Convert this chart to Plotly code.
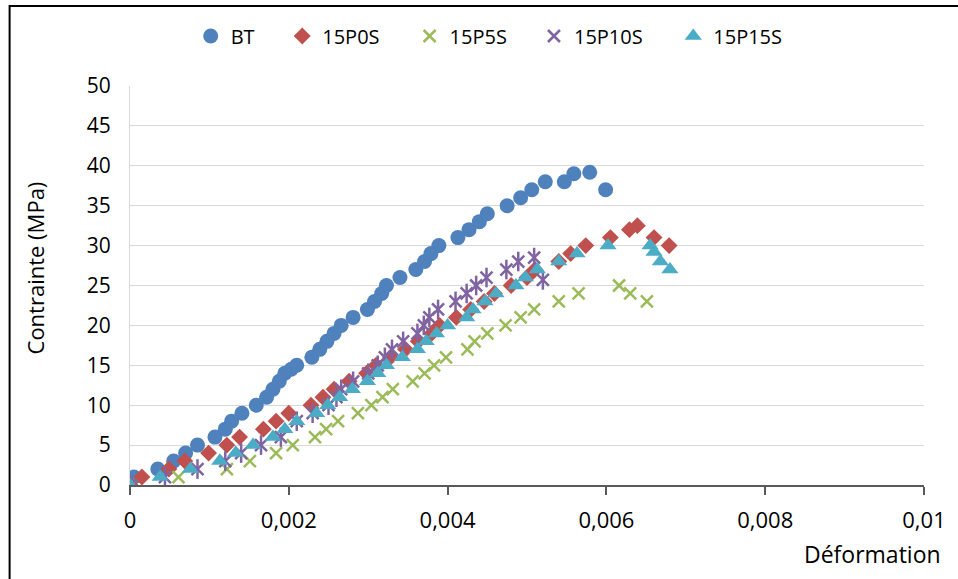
import plotly.graph_objects as go

# ---- data ----
bt_x = [0, 0.00005, 0.00035, 0.00055, 0.0007, 0.00085, 0.00107, 0.0012, 0.00128, 0.00141, 0.00159,
        0.00172, 0.0018, 0.00188, 0.00195, 0.00203, 0.0021, 0.00229, 0.00239, 0.00248, 0.00257,
        0.00266, 0.00281, 0.00299, 0.00308, 0.00317, 0.00323, 0.0034, 0.0036, 0.00371, 0.00379,
        0.00389, 0.00413, 0.00427, 0.0044, 0.0045, 0.00475, 0.00492, 0.00506, 0.00523, 0.00547,
        0.00559, 0.00579, 0.00599]
bt_y = [0, 1, 2, 3, 4, 5, 6, 7, 8, 9, 10,
        11, 12, 13, 14, 14.5, 15, 16, 17, 18, 19,
        20, 21, 22, 23, 24, 25, 26, 27, 28, 29,
        30, 31, 32, 33, 34, 35, 36, 37, 38, 38,
        39, 39.2, 37]

p0_x = [0, 0.00015, 0.00049, 0.00069, 0.00099, 0.00122, 0.00138, 0.00168, 0.00184, 0.002, 0.00228,
        0.00243, 0.00257, 0.00276, 0.00298, 0.0031, 0.00328, 0.00347, 0.00363, 0.0038, 0.0039,
        0.00411, 0.00429, 0.00446, 0.00459, 0.0048, 0.005, 0.0051, 0.0054, 0.00555, 0.00574,
        0.00605, 0.00629, 0.00639, 0.0066, 0.00679]
p0_y = [0, 1, 2, 3, 4, 5, 6, 7, 8, 9, 10,
        11, 12, 13, 14, 15, 16, 17, 18, 19, 20,
        21, 22, 23, 24, 25, 26, 27, 28, 29, 30,
        31, 32, 32.5, 31, 30]

p5_x = [0, 0.00061, 0.00122, 0.00151, 0.00184, 0.00205, 0.00233, 0.00247, 0.00262, 0.00287, 0.00304,
        0.00318, 0.00331, 0.00356, 0.00371, 0.00383, 0.00398, 0.00425, 0.00434, 0.0045, 0.00473,
        0.00492, 0.00509, 0.0054, 0.00565, 0.00616, 0.0063, 0.00651]
p5_y = [0, 1, 2, 3, 4, 5, 6, 7, 8, 9, 10,
        11, 12, 13, 14, 15, 16, 17, 18, 19, 20,
        21, 22, 23, 24, 25, 24, 23]

p10_x = [0, 0.00044, 0.00085, 0.0012, 0.0014, 0.00165, 0.0019, 0.0021, 0.0023, 0.0025, 0.0026,
         0.00266, 0.00281, 0.003, 0.00312, 0.00321, 0.0033, 0.00344, 0.00362, 0.0037, 0.00377,
         0.00388, 0.0041, 0.00424, 0.00436, 0.00449, 0.00474, 0.00489, 0.00509, 0.0052]
p10_y = [0, 1, 2, 3, 4, 5, 6, 8, 9, 10, 11,
         12, 13, 14, 15, 16, 17, 18, 19, 20, 21,
         22, 23, 24, 25, 26, 27, 28, 28.5, 25.7]

p15_x = [0, 0.00038, 0.00076, 0.00113, 0.00133, 0.00155, 0.0018, 0.00195, 0.0021, 0.00235, 0.00249,
         0.00264, 0.0028, 0.00299, 0.00312, 0.00323, 0.00343, 0.00362, 0.00373, 0.00386, 0.004,
         0.00424, 0.00432, 0.00447, 0.00461, 0.00486, 0.00498, 0.00513, 0.0054, 0.00563, 0.00602,
         0.00655, 0.0066, 0.00668, 0.0068]
p15_y = [0, 1, 2, 3, 4, 5, 6, 7, 8, 9, 10,
         11, 12, 13, 14, 15, 16, 17, 18, 19, 20,
         21, 22, 23, 24, 25, 26, 27, 28, 29, 30,
         30, 29.2, 28, 27]

x_ticks = [0, 0.002, 0.004, 0.006, 0.008, 0.01]
x_tick_text = ["0", "0,002", "0,004", "0,006", "0,008", "0,01"]
y_ticks = [0, 5, 10, 15, 20, 25, 30, 35, 40, 45, 50]

names = ["BT", "15P0S", "15P5S", "15P10S", "15P15S"]
colors = ["#4F81BD", "#C0504D", "#9BBB59", "#8064A2", "#4BACC6"]

FONT = "Open Sans"
W, H = 958, 579
PL, PR, PT, PB = 130, 30, 86, 94
PW, PH = W - PL - PR, H - PT - PB


def px_x(p):
    return (p - PL) / PW


def px_y(p):
    return (H - PB - p) / PH


fig = go.Figure()
fig.add_trace(go.Scatter(x=bt_x, y=bt_y, mode="markers", name=names[0], legend="legend",
                         marker=dict(symbol="circle", size=15, color=colors[0])))
fig.add_trace(go.Scatter(x=p0_x, y=p0_y, mode="markers", name=names[1], legend="legend2",
                         marker=dict(symbol="diamond", size=13, color=colors[1])))
fig.add_trace(go.Scatter(x=p5_x, y=p5_y, mode="markers", name=names[2], legend="legend3",
                         marker=dict(symbol="x-thin-open", size=12, color=colors[2],
                                     line=dict(color=colors[2], width=2.5))))
fig.add_trace(go.Scatter(x=p10_x, y=p10_y, mode="markers", name=names[3], legend="legend4",
                         legendgroup="p10",
                         marker=dict(symbol="x-thin-open", size=12, color=colors[3],
                                     line=dict(color=colors[3], width=2.5))))
fig.add_trace(go.Scatter(x=p10_x, y=p10_y, mode="markers", name=names[3], legend="legend4",
                         legendgroup="p10", showlegend=False,
                         marker=dict(symbol="line-ns-open", size=14, color=colors[3],
                                     line=dict(color=colors[3], width=2.5))))
fig.add_trace(go.Scatter(x=p15_x, y=p15_y, mode="markers", name=names[4], legend="legend5",
                         marker=dict(symbol="triangle-up", size=15, color=colors[4])))

legend_marker_px = [213, 305, 433, 558, 698]
legend_common = dict(orientation="h", yanchor="middle", xanchor="left",
                     font=dict(family=FONT, size=20), bgcolor="rgba(0,0,0,0)")
legends = {}
for i, mx in enumerate(legend_marker_px):
    key = "legend" if i == 0 else f"legend{i + 1}"
    legends[key] = dict(legend_common, x=px_x(mx - 22), y=px_y(36))

fig.update_layout(
    width=W, height=H,
    margin=dict(l=PL, r=PR, t=PT, b=PB),
    paper_bgcolor="white", plot_bgcolor="white",
    font=dict(family=FONT, size=22, color="#000000"),
    showlegend=True,
    xaxis=dict(range=[0, 0.01], tickvals=x_ticks, ticktext=x_tick_text,
               showgrid=False, zeroline=False, showline=True, linecolor="#595959", linewidth=2,
               ticks="outside", ticklen=8, tickcolor="#595959", tickwidth=1.5,
               ticklabelstandoff=7,
               tickfont=dict(family=FONT, size=22), fixedrange=True),
    yaxis=dict(range=[0, 50], tickvals=y_ticks, showgrid=True, gridcolor="#D9D9D9", gridwidth=1,
               zeroline=False, showline=True, linecolor="#D9D9D9", linewidth=1,
               ticks="outside", ticklen=14, tickcolor="rgba(0,0,0,0)",
               tickfont=dict(family=FONT, size=21), fixedrange=True),
    annotations=[
        dict(text="Contrainte (MPa)", xref="paper", yref="paper", x=px_x(35), y=px_y(268),
             textangle=-90, showarrow=False, font=dict(family=FONT, size=22),
             xanchor="center", yanchor="middle"),
        dict(text="Déformation", xref="paper", yref="paper", x=px_x(947),
             y=px_y(554), showarrow=False, font=dict(family=FONT, size=23),
             xanchor="right", yanchor="middle"),
    ],
    shapes=[dict(type="rect", xref="paper", yref="paper",
                 x0=px_x(9), x1=px_x(966), y0=px_y(590), y1=px_y(6),
                 line=dict(color="black", width=2), fillcolor="rgba(0,0,0,0)", layer="below")],
    **legends,
)

fig.write_html("out.html", config={"displayModeBar": False},
               post_script="document.body.style.margin='0px';")
